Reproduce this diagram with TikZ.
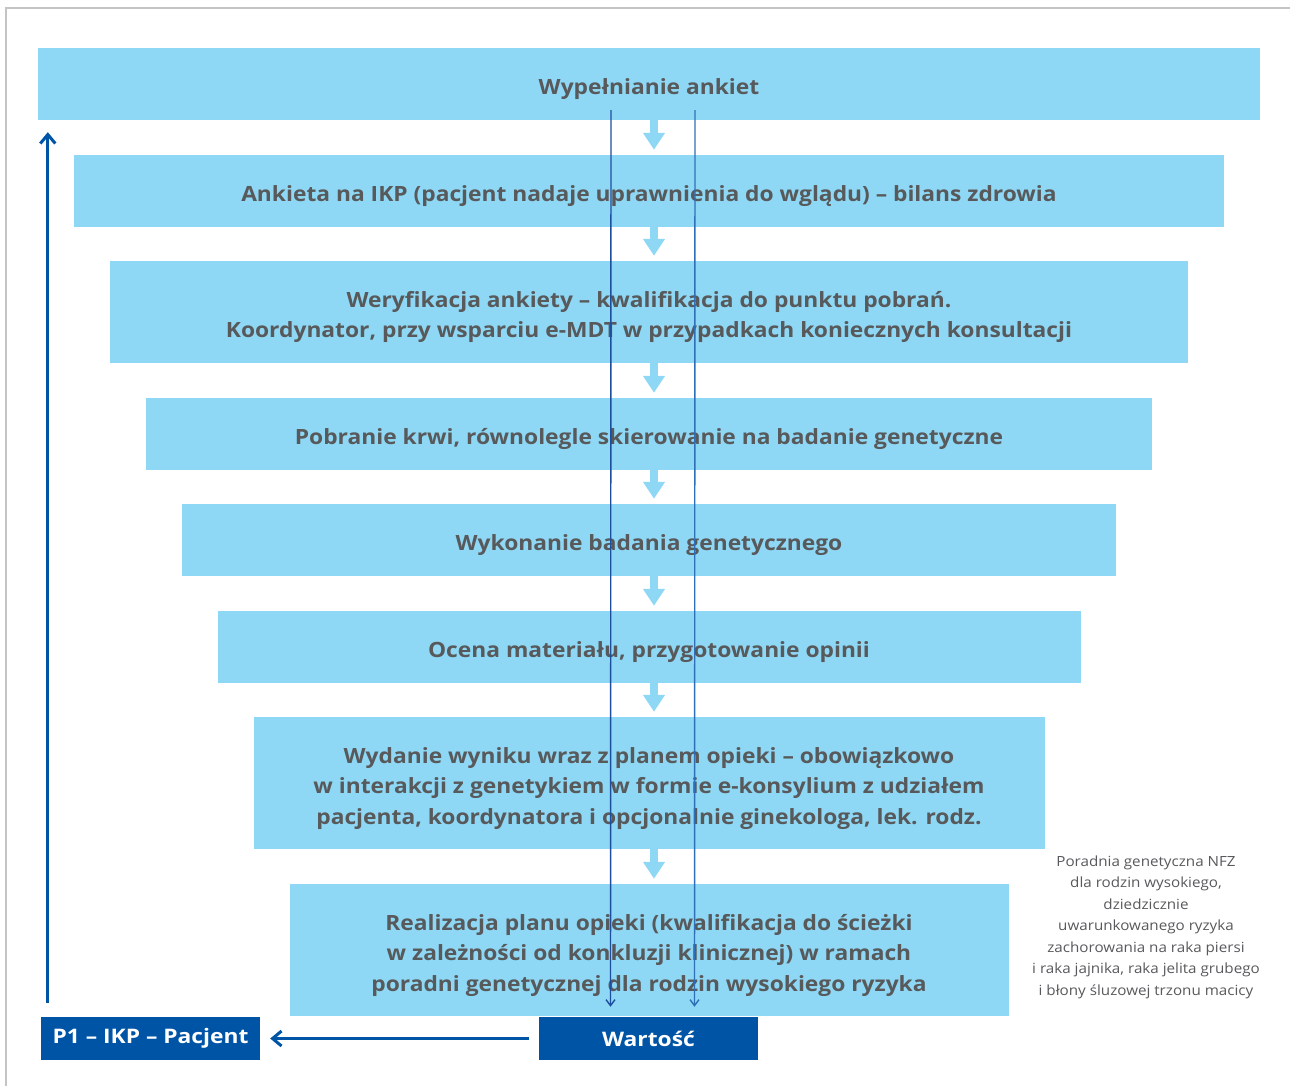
\documentclass[tikz,border=0pt]{standalone}
\usepackage{fontspec}
\setmainfont{Open Sans}[FakeStretch=1.085]
\newfontfamily\etiq{Open Sans}[FakeStretch=1.14]
\usepackage{tikz}
\usetikzlibrary{arrows.meta,calc}
\definecolor{ciel}{HTML}{8ED8F5}
\definecolor{texte}{HTML}{58595B}
\definecolor{marine}{HTML}{0054A6}
\definecolor{trait}{HTML}{1D4E9E}
\definecolor{traitb}{HTML}{2F6FB8}
\definecolor{cadre}{HTML}{C4C4C4}

\begin{document}
\begin{tikzpicture}[x=1pt,y=-1pt,
  etape/.style={fill=ciel,inner sep=0pt,align=center,text=texte,
    font=\fontsize{21}{30.5}\selectfont\bfseries,minimum height=72pt,
    execute at begin node={\rule{0pt}{26pt}}},
  valeur/.style={fill=marine,inner sep=0pt,text=white,
    font=\etiq\fontsize{20}{26}\selectfont\bfseries,minimum width=219pt,minimum height=43pt},
  fleche/.style={ciel,line width=8pt,-{Triangle[width=21pt,length=17pt]}},
  fil/.style={line width=1.4pt,-{Straight Barb[width=9pt,length=6pt]}},
  retour/.style={marine,line width=3pt,-{Straight Barb[width=15pt,length=9pt]}}]
  \useasboundingbox (0,0) rectangle (1290,1086);
  % Cadre.
  \draw[cadre,line width=2pt] (1290,8) -- (6,8) -- (6,1086);

  % Etapes.
  \node[etape,minimum width=1222pt] (wyp) at (649,84) {Wypełnianie ankiet};
  \node[etape,minimum width=1150pt] (ank) at (649,191)
    {Ankieta na IKP (pacjent nadaje uprawnienia do wglądu) – bilans zdrowia};
  \node[etape,minimum width=1078pt,minimum height=102pt,text height=57pt] (wer) at (649,312)
    {Weryfikacja ankiety – kwalifikacja do punktu pobrań.\\
     Koordynator, przy wsparciu e-MDT w przypadkach koniecznych konsultacji};
  \node[etape,minimum width=1006pt] (pob) at (649,434)
    {Pobranie krwi, równolegle skierowanie na badanie genetyczne};
  \node[etape,minimum width=934pt] (wyk) at (649,540)
    {Wykonanie badania genetycznego};
  \node[etape,minimum width=863pt] (oce) at (649,647)
    {Ocena materiału, przygotowanie opinii};
  \node[etape,minimum width=791pt,minimum height=132pt,text height=88pt] (wyd) at (649,783)
    {Wydanie wyniku wraz z planem opieki – obowiązkowo\\
     w interakcji z genetykiem w formie e-konsylium z udziałem\\
     pacjenta, koordynatora i opcjonalnie ginekologa, lek. rodz.};
  \node[etape,minimum width=719pt,minimum height=132pt,text height=88pt] (rea) at (649,950)
    {Realizacja planu opieki (kwalifikacja do ścieżki\\
     w zależności od konkluzji klinicznej) w ramach\\
     poradni genetycznej dla rodzin wysokiego ryzyka};

  % Fleches entre etapes.
  \foreach \a/\b in {wyp/ank,ank/wer,wer/pob,pob/wyk,wyk/oce,oce/wyd,wyd/rea}
    \draw[fleche] ([xshift=5pt]\a.south) -- ([xshift=5pt,yshift=5pt]\b.north);

  % Bas.
  \node[valeur] (wart) at (648.5,1038.5) {Wartość};
  \node[valeur] (pac) at (150.5,1038.5) {P1 – IKP – Pacjent};

  % Fils.
  \draw[fil,trait] ([xshift=-38pt,yshift=10pt]wyp.south) -- ([xshift=-38pt,yshift=10pt]wart.north);
  \draw[fil,traitb] ([xshift=46pt,yshift=10pt]wyp.south) -- ([xshift=46pt,yshift=10pt]wart.north);

  % Retour.
  \draw[retour] ([xshift=-10pt]wart.west) -- ([xshift=10pt]pac.east);
  \coordinate (haut) at ([yshift=-12pt]wyp.south);
  \coordinate (bas) at ([xshift=7pt,yshift=14pt]pac.north west);
  \draw[retour] (bas) -- (bas |- haut);

  % Note.
  \node[align=center,text=texte,font=\fontsize{14}{21.5}\selectfont] (note) at (1146,927)
    {Poradnia genetyczna NFZ\\ dla rodzin wysokiego,\\ dziedzicznie\\
     uwarunkowanego ryzyka\\ zachorowania na raka piersi\\
     i raka jajnika, raka jelita grubego\\ i błony śluzowej trzonu macicy};
\end{tikzpicture}
\end{document}
